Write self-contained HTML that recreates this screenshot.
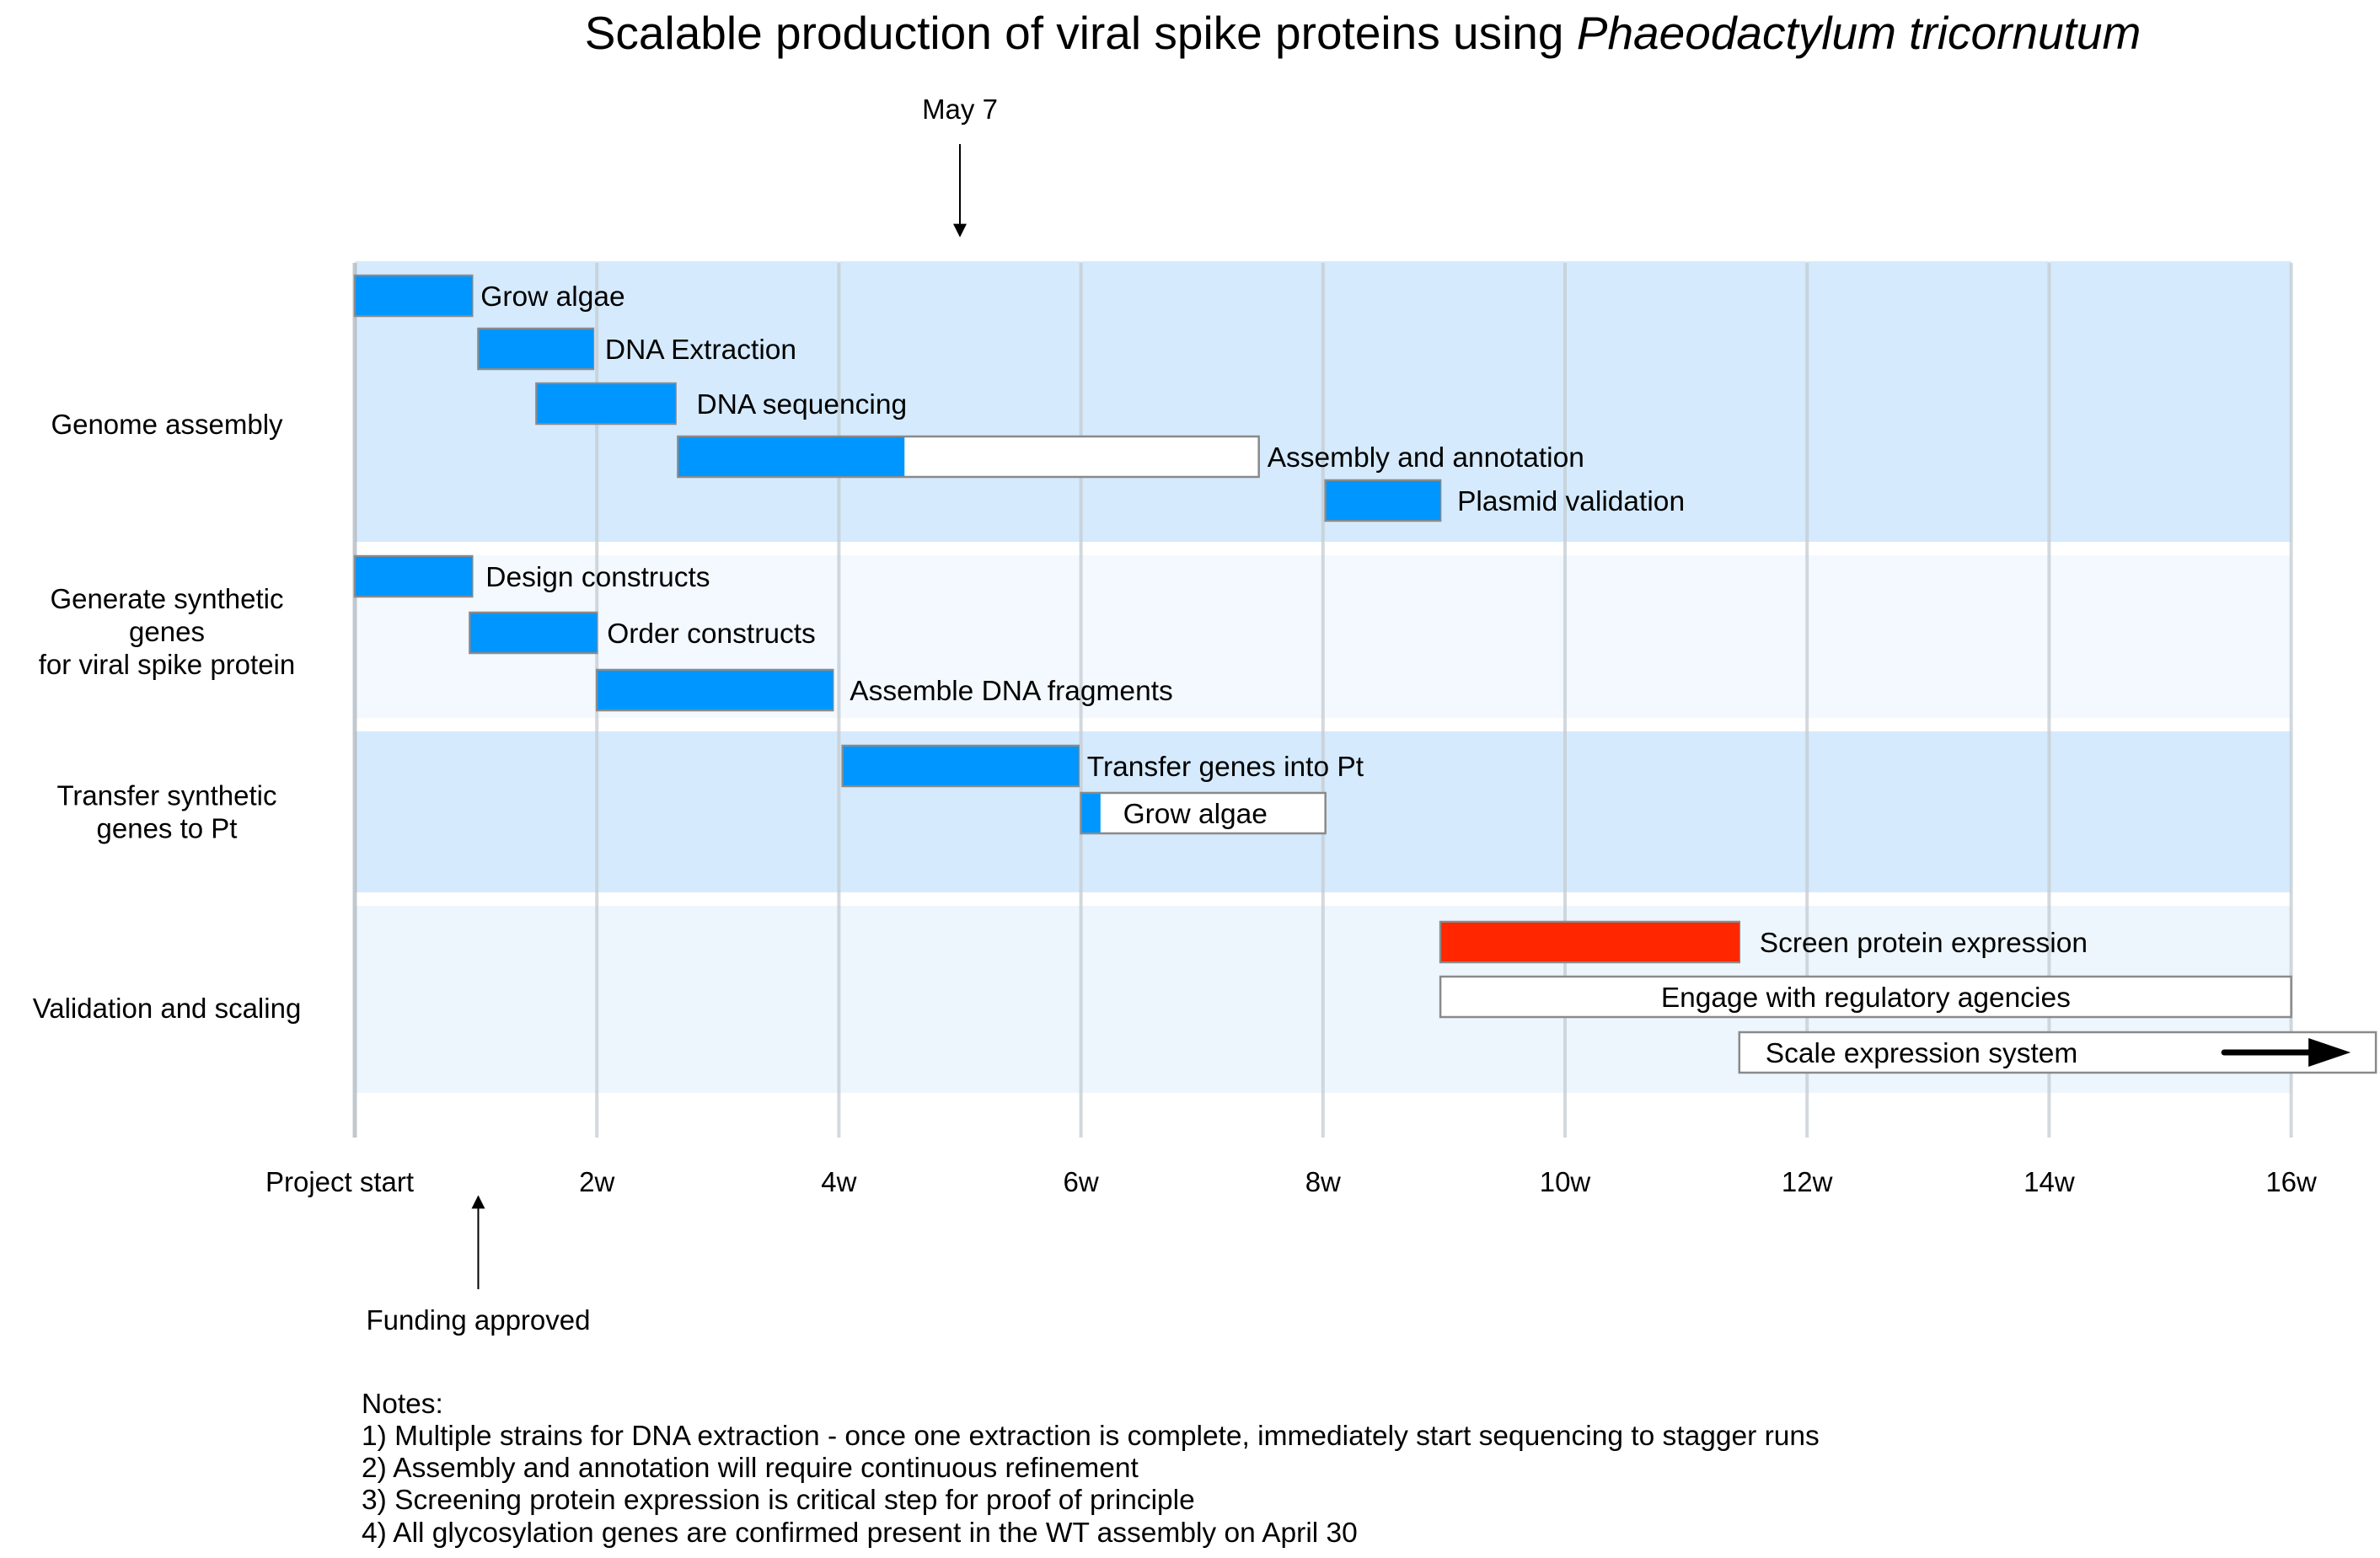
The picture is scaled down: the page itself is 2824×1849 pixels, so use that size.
<!DOCTYPE html>
<html><head><meta charset="utf-8">
<style>
html,body{margin:0;padding:0;background:#fff;}
svg{display:block;font-family:"Liberation Sans",sans-serif;}
</style></head>
<body>
<svg id="chart" width="2824" height="1849" viewBox="0 0 2824 1849" xmlns="http://www.w3.org/2000/svg">
<defs>
<marker id="ah" viewBox="0 0 10 10" refX="9" refY="5" markerWidth="8" markerHeight="8" orient="auto-start-reverse"><path d="M0,0 L10,5 L0,10 z" fill="#000"/></marker>
</defs>
<text x="1617" y="58" text-anchor="middle" font-size="55" fill="#000">Scalable production of viral spike proteins using <tspan font-style="italic">Phaeodactylum tricornutum</tspan></text>
<g id="bands"></g>
<g id="grid"></g>
<g id="bars"></g>
<g id="ticks"></g>
<g id="cats"></g>
<g id="annot"></g>
<g font-size="33.5" fill="#000">
<text x="429" y="1677">Notes:</text>
<text x="429" y="1715">1) Multiple strains for DNA extraction - once one extraction is complete, immediately start sequencing to stagger runs</text>
<text x="429" y="1753">2) Assembly and annotation will require continuous refinement</text>
<text x="429" y="1791">3) Screening protein expression is critical step for proof of principle</text>
<text x="429" y="1830">4) All glycosylation genes are confirmed present in the WT assembly on April 30</text>
</g>
</svg>
<script>
const weekTicks=[0,2,4,6,8,10,12,14,16];
const tickLabels=["Project start","2w","4w","6w","8w","10w","12w","14w","16w"];
const taskNames=["Grow algae","DNA Extraction","DNA sequencing","Assembly and annotation","Plasmid validation","Design constructs","Order constructs","Assemble DNA fragments","Transfer genes into Pt","Grow algae","Screen protein expression","Engage with regulatory agencies","Scale expression system"];
const taskStart=[0,1.02,1.5,2.67,8.02,0,0.95,2,4.03,6,8.97,8.97,11.44];
const taskEnd=[0.97,1.97,2.65,7.47,8.97,0.97,2,3.95,5.98,8.02,11.44,16,16.7];
const taskDone=[1,1,1,0.39,1,1,1,1,1,0.08,1,0,0];
const taskRow=[0,1,2,3,4,5,6,7,8,9,10,11,12];
const taskColor=["blue","blue","blue","blue","blue","blue","blue","blue","blue","blue","red","blue","blue"];
const labelMode=["right","right","right","right","right","right","right","right","right","inside","right","center","inside"];
const labelGap=[10,14,25,10,20,16,12,20,10,0,24,0,0];
const rowCenters=[351,414,479,542,594,684,751,819,909,965,1118,1183,1249];
const categories=["Genome assembly","Generate synthetic|genes|for viral spike protein","Transfer synthetic|genes to Pt","Validation and scaling"];
const catLabelY=[504,750,964,1197];
const bandTop=[310,659,868,1075];
const bandBottom=[643,852,1059,1297];
const bandFill=["#d5eafc","#f3f9fe","#d5eafc","#eef6fd"];

const NS="http://www.w3.org/2000/svg";
const X0=421,PXW=143.6;
function xs(w){return X0+w*PXW;}
function mk(tag,attrs,parent){const e=document.createElementNS(NS,tag);for(const k in attrs)e.setAttribute(k,attrs[k]);parent.appendChild(e);return e;}
const gB=document.getElementById('bands'),gG=document.getElementById('grid'),gBar=document.getElementById('bars'),gT=document.getElementById('ticks'),gC=document.getElementById('cats'),gA=document.getElementById('annot');

for(let i=0;i<categories.length;i++){
  const r=mk('rect',{x:xs(0),y:bandTop[i],width:xs(16)-xs(0),height:bandBottom[i]-bandTop[i],fill:bandFill[i]},gB);
  
  
  const lines=categories[i].split('|');
  const cy=catLabelY[i];
  const t=mk('text',{x:198,'text-anchor':'middle','font-size':33,fill:'#000'},gC);
  
  
  lines.forEach((l,j)=>{const ts=mk('tspan',{x:198,y:cy+11+(j-(lines.length-1)/2)*39},t);ts.textContent=l;});
}
for(let i=0;i<weekTicks.length;i++){
  const x=xs(weekTicks[i]);
  const l=mk('line',{x1:x,x2:x,y1:312,y2:1350,stroke:i==0?'#aeb6bd':'#c3cbd2','stroke-width':i==0?5:4,'stroke-opacity':0.75},gG);
  
  
  const t=mk('text',{x:i==0?x-18:x,y:1414,'text-anchor':'middle','font-size':33,fill:'#000'},gT);
  
  
  t.textContent=tickLabels[i];
}
const H=48;
for(let i=0;i<taskNames.length;i++){
  const x1=xs(taskStart[i]),x2=xs(taskEnd[i]),cy=rowCenters[taskRow[i]],y=cy-H/2;
  const g=mk('g',{},gBar);
  
  
  mk('rect',{x:x1,y:y,width:x2-x1,height:H,fill:'#fff',stroke:'#8a8a8a','stroke-width':2.5},g);
  const col=taskColor[i]=='red'?'#ff2600':'#0096ff';
  if(taskDone[i]>0) mk('rect',{x:x1+1,y:y+1,width:(x2-x1)*taskDone[i]-1,height:H-2,fill:col},g);
  let tx,anchor='start';
  if(labelMode[i]=='right'){tx=x2+labelGap[i];}
  else if(labelMode[i]=='center'){tx=(x1+x2)/2;anchor='middle';}
  else {tx=(i==9)?x1+50:x1+31;}
  const t=mk('text',{x:tx,y:cy+12,'text-anchor':anchor,'font-size':33.5,fill:'#000'},g);
  
  
  t.textContent=taskNames[i];
  if(i==12){
    const a=mk('path',{d:`M${x2-180},${cy} L${x2-80},${cy}`,stroke:'#000','stroke-width':7,'stroke-linecap':'round'},g);
    
    
    mk('path',{d:`M${x2-80},${cy-17} L${x2-30},${cy} L${x2-80},${cy+17} z`,fill:'#000'},g);
  }
}
const may=mk('g',{},gA);


const mt=mk('text',{x:xs(5),y:141,'text-anchor':'middle','font-size':33},may);mt.textContent='May 7';
mk('line',{x1:xs(5),x2:xs(5),y1:171,y2:280,stroke:'#000','stroke-width':2,'marker-end':'url(#ah)'},may);
const fund=mk('g',{},gA);


mk('line',{x1:xs(1.02),x2:xs(1.02),y1:1530,y2:1420,stroke:'#000','stroke-width':2,'marker-end':'url(#ah)'},fund);
const ft=mk('text',{x:xs(1.02),y:1578,'text-anchor':'middle','font-size':33},fund);ft.textContent='Funding approved';
</script>
</body></html>
